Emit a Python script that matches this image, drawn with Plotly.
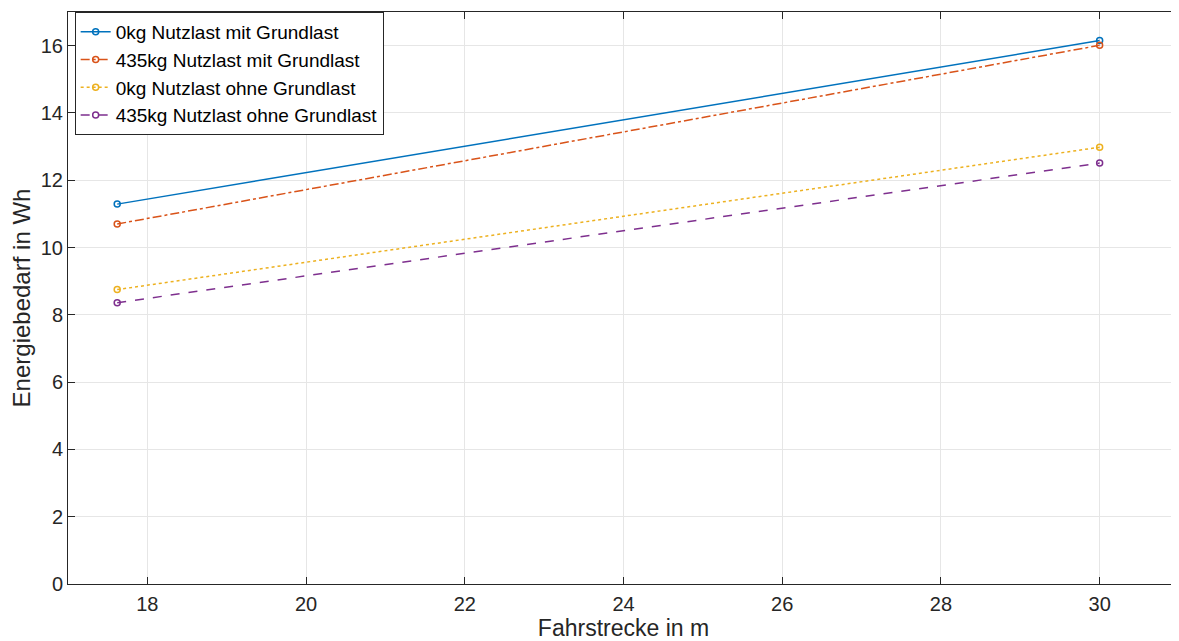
import plotly.graph_objects as go

x_vals = [17.62, 30.0]
names = ["0kg Nutzlast mit Grundlast", "435kg Nutzlast mit Grundlast",
         "0kg Nutzlast ohne Grundlast", "435kg Nutzlast ohne Grundlast"]
y_0kg_mit = [11.29, 16.15]
y_435kg_mit = [10.70, 16.01]
y_0kg_ohne = [8.75, 12.98]
y_435kg_ohne = [8.36, 12.51]
series = [y_0kg_mit, y_435kg_mit, y_0kg_ohne, y_435kg_ohne]
colors = ["#0072BD", "#D95319", "#EDB120", "#7E2F8E"]
dashes = ["solid", "dashdot", "dot", "dash"]

fig = go.Figure()
for n, y, c, d in zip(names, series, colors, dashes):
    fig.add_trace(go.Scatter(
        x=x_vals, y=y, name=n, mode="lines+markers",
        line=dict(color=c, width=1.5, dash=d),
        marker=dict(symbol="circle-open", size=6, color=c, line=dict(width=1.5, color=c)),
    ))

FONT = "Liberation Sans, Arial"
axis_common = dict(
    showline=True, linecolor="#262626", linewidth=1, mirror="ticks",
    ticks="inside", ticklen=7, tickcolor="#262626",
    showgrid=True, gridcolor="#E6E6E6", gridwidth=1, zeroline=False,
    tickfont=dict(family=FONT, size=20, color="#262626"),
)
fig.update_xaxes(range=[17, 31], dtick=2, tick0=18, ticklabelstandoff=2,
                 title=dict(text="Fahrstrecke in m", standoff=7,
                            font=dict(family=FONT, size=23, color="#262626")),
                 **axis_common)
fig.update_yaxes(range=[0, 17], dtick=2, tick0=0,
                 title=dict(text="Energiebedarf in Wh", standoff=6,
                            font=dict(family=FONT, size=24, color="#262626")),
                 **axis_common)

fig.update_layout(
    width=1171, height=633,
    margin=dict(l=60, r=0, t=4, b=57, autoexpand=False),
    plot_bgcolor="white", paper_bgcolor="white",
    legend=dict(x=0.006, y=1.0, xanchor="left", yanchor="top",
                bgcolor="white", bordercolor="#262626", borderwidth=1,
                font=dict(family=FONT, size=19, color="black"),
                tracegroupgap=0, itemwidth=30),
    showlegend=True,
)
fig.write_html("out.html")
